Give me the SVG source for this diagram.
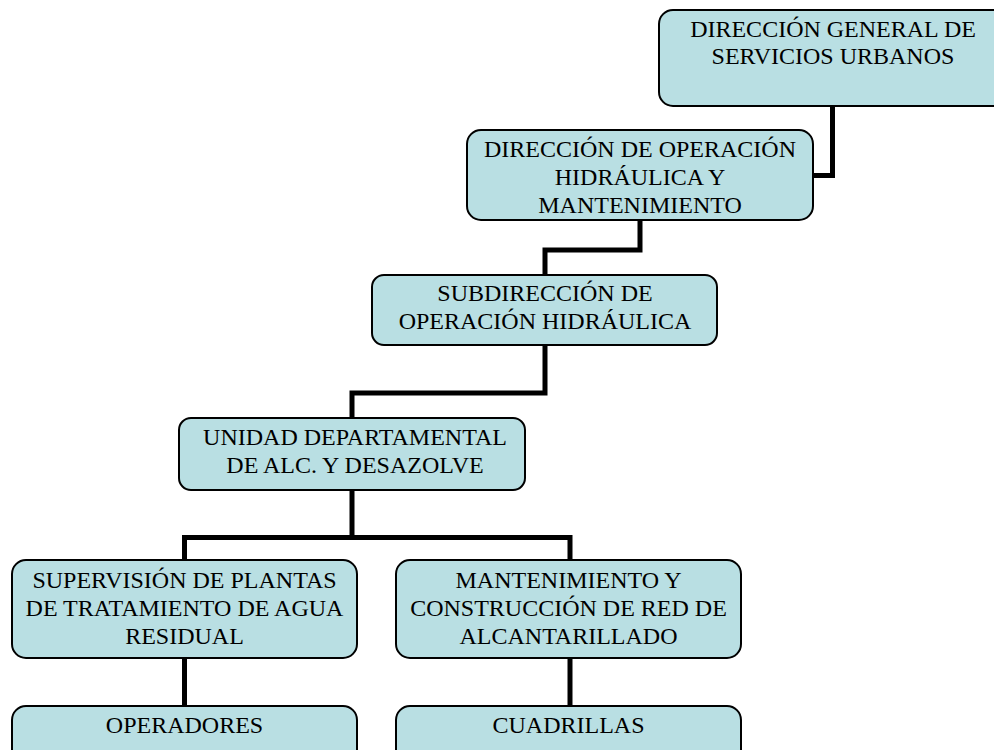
<svg xmlns="http://www.w3.org/2000/svg" width="994" height="750" viewBox="0 0 994 750">
<style>
.box{fill:#b9dfe3;stroke:#000;stroke-width:2}
.lbl{font-family:"Liberation Serif","Times New Roman",serif;font-size:24px;fill:#000;text-anchor:middle}
.con{fill:none;stroke:#000;stroke-width:5;stroke-linejoin:miter}
</style>
<rect width="994" height="750" fill="#fff"/>
<g id="connectors">
<path class="con" d="M832.5,106 V175.5 H813"/>
<path class="con" d="M640,220 V250 H545 V275"/>
<path class="con" d="M545,345 V393 H352 V418"/>
<path class="con" d="M352,490 V537.5 M184.5,560 V537.5 H570 V560"/>
<path class="con" d="M184.5,658 V706"/>
<path class="con" d="M570,658 V706"/>
</g>
<g id="n1">
<rect class="box" x="659" y="10" width="350" height="96" rx="14"/>
<text class="lbl"><tspan x="833" y="37">DIRECCIÓN GENERAL DE</tspan><tspan x="833" y="64">SERVICIOS URBANOS</tspan></text>
</g>
<g id="n2">
<rect class="box" x="467" y="130" width="346" height="90" rx="14"/>
<text class="lbl"><tspan x="640" y="157">DIRECCIÓN DE OPERACIÓN</tspan><tspan x="640" y="185">HIDRÁULICA Y</tspan><tspan x="640" y="213">MANTENIMIENTO</tspan></text>
</g>
<g id="n3">
<rect class="box" x="372" y="275" width="345" height="70" rx="12"/>
<text class="lbl"><tspan x="545" y="301">SUBDIRECCIÓN DE</tspan><tspan x="545" y="329">OPERACIÓN HIDRÁULICA</tspan></text>
</g>
<g id="n4">
<rect class="box" x="179" y="418" width="346" height="72" rx="12"/>
<text class="lbl"><tspan x="355" y="445">UNIDAD DEPARTAMENTAL</tspan><tspan x="355" y="473">DE ALC. Y DESAZOLVE</tspan></text>
</g>
<g id="n5">
<rect class="box" x="12" y="560" width="345" height="98" rx="14"/>
<text class="lbl"><tspan x="184.5" y="588">SUPERVISIÓN DE PLANTAS</tspan><tspan x="184.5" y="616">DE TRATAMIENTO DE AGUA</tspan><tspan x="184.5" y="644">RESIDUAL</tspan></text>
</g>
<g id="n6">
<rect class="box" x="396" y="560" width="345" height="98" rx="14"/>
<text class="lbl"><tspan x="568.5" y="588">MANTENIMIENTO Y</tspan><tspan x="568.5" y="616">CONSTRUCCIÓN DE RED DE</tspan><tspan x="568.5" y="644">ALCANTARILLADO</tspan></text>
</g>
<g id="n7">
<rect class="box" x="12" y="706" width="345" height="60" rx="14"/>
<text class="lbl"><tspan x="184.5" y="733">OPERADORES</tspan></text>
</g>
<g id="n8">
<rect class="box" x="396" y="706" width="345" height="60" rx="14"/>
<text class="lbl"><tspan x="568.5" y="733">CUADRILLAS</tspan></text>
</g>
</svg>
